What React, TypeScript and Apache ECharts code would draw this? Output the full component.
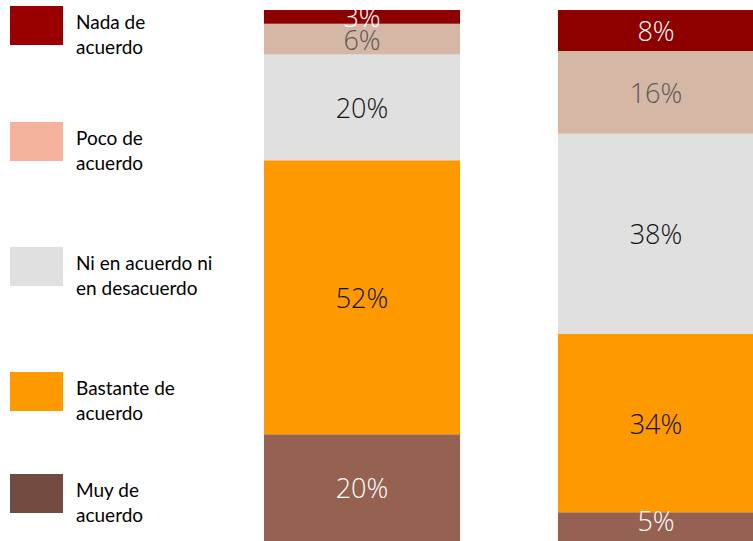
import React, { useEffect, useRef } from "react";
import * as echarts from "echarts";

const categories = ["Grupo 1", "Grupo 2"];
const seriesNames = [
  "Muy de acuerdo",
  "Bastante de acuerdo",
  "Ni en acuerdo ni en desacuerdo",
  "Poco de acuerdo",
  "Nada de acuerdo",
];
const muyDeAcuerdo = [20.1, 5.4];
const bastanteDeAcuerdo = [51.6, 33.6];
const niNi = [19.9, 37.7];
const pocoDeAcuerdo = [5.8, 15.6];
const nadaDeAcuerdo = [2.6, 7.7];

const legendLabels = [
  "Nada de\nacuerdo",
  "Poco de\nacuerdo",
  "Ni en acuerdo ni\nen desacuerdo",
  "Bastante de\nacuerdo",
  "Muy de\nacuerdo",
];

const barColors = ["#956251", "#fe9a00", "#e0e0e0", "#d5b7a6", "#8e0000"];
const labelColors = ["#ffffff", "#111111", "#111111", "#595959", "#ffffff"];
const legendColors = ["#990000", "#f4b19b", "#e0e0e0", "#ff9900", "#714b3f"];
const legendTops = [6, 122, 247, 372, 474];

export default function App() {
  const ref = useRef<HTMLDivElement>(null);
  useEffect(() => {
    if (!ref.current) return;
    const chart = echarts.init(ref.current, undefined, { renderer: "svg" });
    const values = [muyDeAcuerdo, bastanteDeAcuerdo, niNi, pocoDeAcuerdo, nadaDeAcuerdo];
    const series = values.map((vals, i) => ({
      name: seriesNames[i],
      type: "bar",
      stack: "total",
      barCategoryGap: "33.3%",
      itemStyle: { color: barColors[i] },
      label: {
        show: true,
        position: "inside",
        color: labelColors[i],
        fontFamily: "Open Sans",
        fontWeight: 300,
        fontSize: 27,
        formatter: (p: any) => Math.round(p.value) + "%",
      },
      data: vals.map((v, j) =>
        i === 0 && j === 1 ? { value: v, label: { offset: [0, -6] } } : v
      ),
    }));
    const graphic: any[] = [];
    legendLabels.forEach((txt, i) => {
      graphic.push({
        type: "rect",
        left: 10,
        top: legendTops[i],
        shape: { width: 53, height: 39 },
        style: { fill: legendColors[i] },
      });
      graphic.push({
        type: "text",
        x: 76,
        y: legendTops[i] + 28,
        style: {
          text: txt,
          fill: "#000000",
          font: "19px Lato",
          lineHeight: 25,
          verticalAlign: "middle",
          align: "left",
        },
      });
    });
    chart.setOption({
      animation: false,
      grid: { left: 215, right: 0, top: 10, bottom: 0, containLabel: false },
      xAxis: { type: "category", data: categories, show: false },
      yAxis: { type: "value", min: 0, max: 100, show: false },
      series,
      graphic,
    });
    return () => chart.dispose();
  }, []);
  return (
    <div
      style={{
        position: "fixed",
        left: 0,
        top: 0,
        width: 753,
        height: 541,
        overflow: "hidden",
        background: "#fff",
      }}
    >
      <div ref={ref} style={{ width: 803, height: 541 }} />
    </div>
  );
}
